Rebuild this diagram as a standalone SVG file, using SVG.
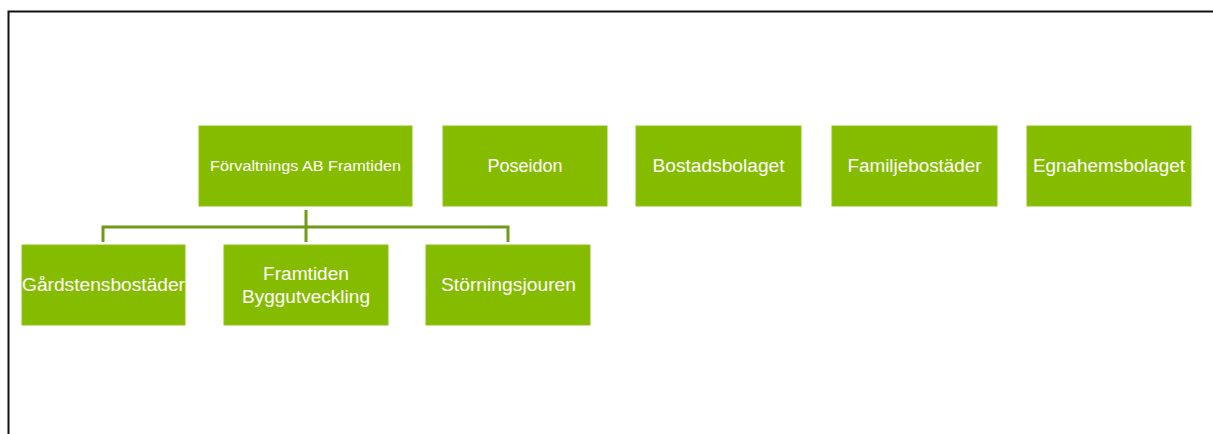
<svg xmlns="http://www.w3.org/2000/svg" width="1213" height="434" viewBox="0 0 1213 434">
<style>
.box{fill:#86bc00;stroke:#8fc21a;stroke-width:1}
.t{font-family:"Liberation Sans",Arial,sans-serif;font-size:18px;fill:#ffffff;text-anchor:middle}
.ts{font-size:14px}
.c{fill:none;stroke:#6f9a1a;stroke-width:3}
</style>
<rect width="1213" height="434" fill="#ffffff"/>
<path d="M8.5,434 V11.5 H1213" fill="none" stroke="#111" stroke-width="2"/>
<g id="connectors">
<path class="c" d="M306,210 V242"/>
<path class="c" d="M103,242 V227 H508 V242"/>
</g>
<g id="n-forvaltnings"><rect class="box" x="199" y="126" width="213" height="80"/><text class="t ts" x="305.5" y="171" textLength="191" lengthAdjust="spacingAndGlyphs">Förvaltnings AB Framtiden</text></g>
<g id="n-poseidon"><rect class="box" x="443" y="126" width="164" height="80"/><text class="t" x="525" y="172">Poseidon</text></g>
<g id="n-bostadsbolaget"><rect class="box" x="636" y="126" width="165" height="80"/><text class="t" x="718.5" y="172" textLength="132" lengthAdjust="spacingAndGlyphs">Bostadsbolaget</text></g>
<g id="n-familjebostader"><rect class="box" x="832" y="126" width="165" height="80"/><text class="t" x="914.5" y="172" textLength="134" lengthAdjust="spacingAndGlyphs">Familjebostäder</text></g>
<g id="n-egnahemsbolaget"><rect class="box" x="1027" y="126" width="164" height="80"/><text class="t" x="1109" y="172" textLength="152" lengthAdjust="spacingAndGlyphs">Egnahemsbolaget</text></g>
<g id="n-gardstensbostader"><rect class="box" x="22" y="245" width="163" height="80"/><text class="t" x="103.5" y="291" textLength="163" lengthAdjust="spacingAndGlyphs">Gårdstensbostäder</text></g>
<g id="n-framtiden-bygg"><rect class="box" x="224" y="245" width="164" height="80"/><text class="t" x="306" y="280" textLength="86" lengthAdjust="spacingAndGlyphs">Framtiden</text><text class="t" x="306" y="303" textLength="128" lengthAdjust="spacingAndGlyphs">Byggutveckling</text></g>
<g id="n-storningsjouren"><rect class="box" x="426" y="245" width="164" height="80"/><text class="t" x="508.5" y="291" textLength="135" lengthAdjust="spacingAndGlyphs">Störningsjouren</text></g>
</svg>
